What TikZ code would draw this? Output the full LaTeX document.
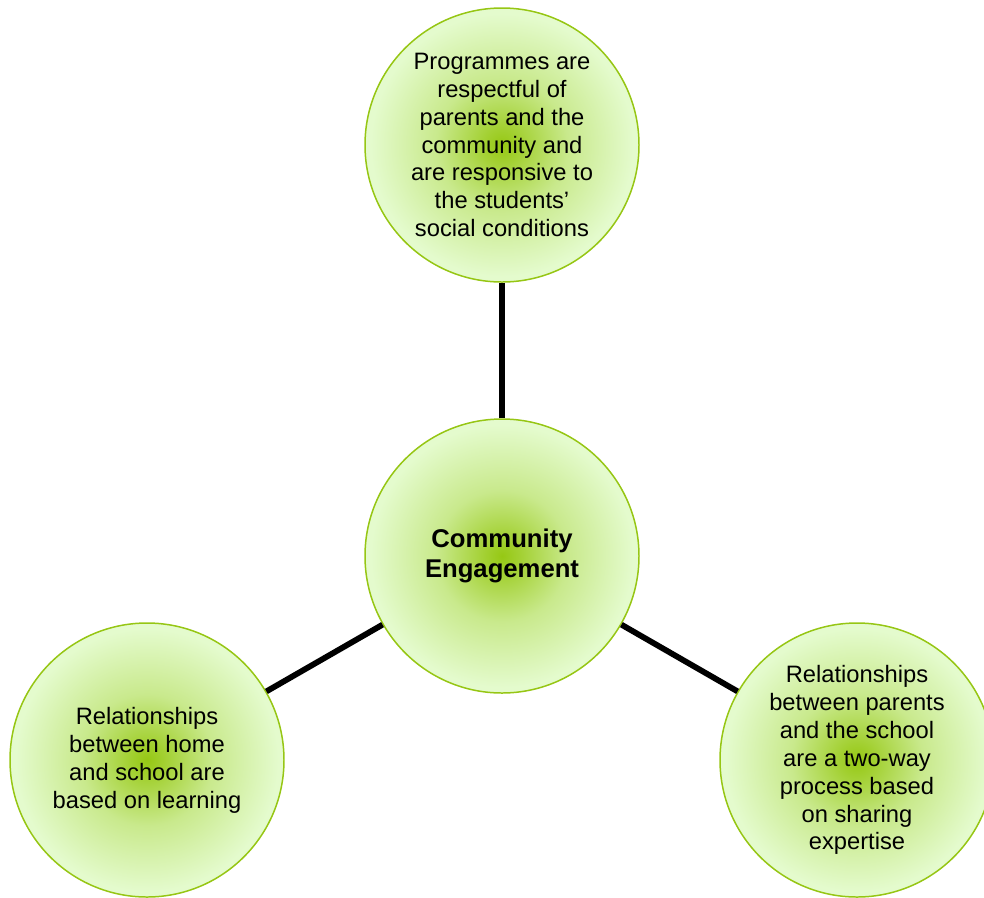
\documentclass[tikz,border=0pt]{standalone}
\usepackage{fontspec}
\setmainfont{Liberation Sans}
\usepackage{tikz}

\definecolor{glowin}{RGB}{150,200,20}
\definecolor{glowout}{RGB}{228,251,205}
\definecolor{rim}{RGB}{150,198,20}
\pgfdeclareradialshading{bubbleglow}{\pgfpoint{0bp}{0bp}}{%
  color(0bp)=(glowin); color(3bp)=(glowin!85!glowout);
  color(12bp)=(glowin!35!glowout); color(24bp)=(glowout); color(50bp)=(glowout)}

\begin{document}
\begin{tikzpicture}[
  font=\fontsize{13.5}{15.9}\selectfont,
  bubble/.style={circle, draw=rim, line width=0.85pt, shading=bubbleglow,
    minimum size=5.48cm, inner sep=0pt, align=center, text=black},
  link/.style={line width=3.3pt, black}
]
\useasboundingbox (0,0) rectangle (19.68,-17.94);
\node[bubble] (respect) at (10.04,-2.9)
  {Programmes are\\respectful of\\parents and the\\community and\\are responsive to\\the students'\\social conditions};
\node[bubble, font=\fontsize{14.6}{17.4}\selectfont\bfseries] (engage) at (10.04,-11.12)
  {Community\\Engagement};
\node[bubble] (learn)  at (2.94,-15.2)
  {Relationships\\between home\\and school are\\based on learning};
\node[bubble] (expert) at (17.14,-15.2)
  {Relationships\\between parents\\and the school\\are a two-way\\process based\\on sharing\\expertise};
\draw[link] (engage) -- (respect);
\draw[link] (engage) -- (learn);
\draw[link] (engage) -- (expert);
\end{tikzpicture}
\end{document}
